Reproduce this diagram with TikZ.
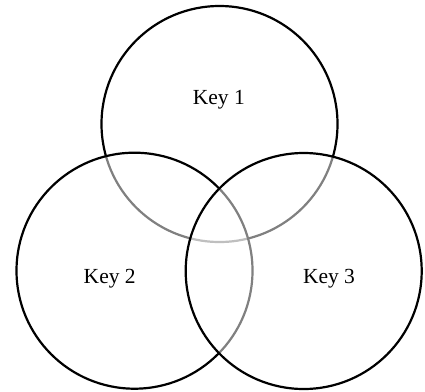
\documentclass[tikz,border=0pt]{standalone}
\usepackage{fontspec}
\setmainfont{Liberation Serif}
\begin{document}
\begin{tikzpicture}[x=1pt,y=-1pt,
  venn/.style={circle,draw=black,line width=2.2pt,fill=white,fill opacity=0.5,draw opacity=1,minimum size=236pt,inner sep=0pt},
  lbl/.style={font=\fontsize{21.5}{24}\selectfont,inner sep=0pt}]
\useasboundingbox (0,0) rectangle (425,391);
\node[venn] (c1) at (219.5,124) {};
\node[venn] (c2) at (134.5,270.7) {};
\node[venn] (c3) at (303.7,271) {};
\node[lbl] (k1) at (218.8,100) {Key 1};
\node[lbl] (k2) at (109.7,278.5) {Key 2};
\node[lbl] (k3) at (329,278.5) {Key 3};
\end{tikzpicture}
\end{document}
